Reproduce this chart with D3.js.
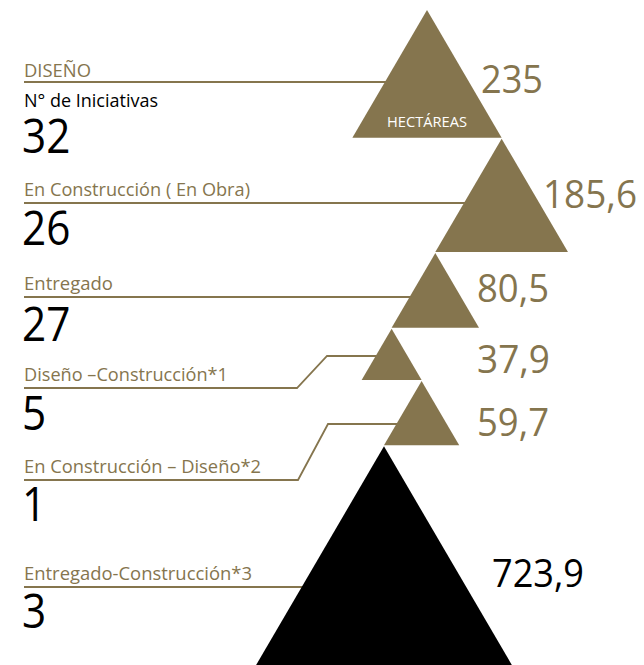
<!DOCTYPE html>
<html><head><meta charset="utf-8">
<script src="https://cdn.jsdelivr.net/npm/d3@7"></script>
<style>body{margin:0;background:#fff}svg{display:block}</style></head>
<body><svg id="c" width="644" height="665"></svg>
<script>
// ---- data ----
const categories = ["DISEÑO", "En Construcción ( En Obra)", "Entregado", "Diseño –Construcción*1", "En Construcción – Diseño*2", "Entregado-Construcción*3"];
const iniciativas = [32, 26, 27, 5, 1, 3];
const hectareas = [235, 185.6, 80.5, 37.9, 59.7, 723.9];
const hectareasLabels = ["235", "185,6", "80,5", "37,9", "59,7", "723,9"];
const highlight = [false, false, false, false, false, true];
const subtitle = "N° de Iniciativas";
const unitLabel = "HECTÁREAS";

// ---- layout ----
const GOLD = "#85754e", FONT = "'Open Sans', 'Noto Sans', sans-serif";
const svg = d3.select("#c");
const sideScale = d3.scaleSqrt().domain([0, d3.max(hectareas)]).range([0, 262]);
const HR = 0.855;                    // height / side
const anchorSide = [null, "right", "left", "left", "right", "left"];
const firstApex = {x: 427, y: 10}, gap = 1;
const lineY = [82, 203, 297, 388, 480, 587];
const elbows = {3: {x1: 297, x2: 327, y2: 356}, 4: {x1: 298, x2: 328, y2: 424}};
const numY = [153, 245, 341, 430, 521, 628];
const valX = [481, 543, 477, 477, 477, 492], valY = [93, 208, 302, 373, 436, 587];
const labelW = [67, 226, 89, 204, 237, 228];
const valW = [62, 94, 72, 73, 72, 92];

const tris = [];
hectareas.forEach((v, i) => {
  const s = sideScale(v), h = s * HR;
  let ax, ay;
  if (i === 0) { ax = firstApex.x; ay = firstApex.y; }
  else {
    const p = tris[i - 1];
    ax = anchorSide[i] === "right" ? p.x + p.s / 2 : p.x - p.s / 2;
    ay = p.y + p.h + gap;
  }
  tris.push({x: ax, y: ay, s, h, i});
});
const leftEdgeAt = (t, y) => t.x - (y - t.y) / t.h * t.s / 2;

// leader lines
const line = d3.line();
tris.forEach((t, i) => {
  let pts;
  if (elbows[i]) {
    const e = elbows[i];
    pts = [[24, lineY[i]], [e.x1, lineY[i]], [e.x2, e.y2], [leftEdgeAt(t, e.y2) + 2, e.y2]];
  } else {
    pts = [[24, lineY[i]], [leftEdgeAt(t, lineY[i]) + 2, lineY[i]]];
  }
  svg.append("path").attr("d", line(pts)).attr("fill", "none")
    .attr("stroke", GOLD).attr("stroke-width", 1.8);
});

// triangles
svg.selectAll("path.tri").data(tris).join("path").attr("class", "tri")
  .attr("d", t => line([[t.x, t.y], [t.x + t.s / 2, t.y + t.h], [t.x - t.s / 2, t.y + t.h]]) + "Z")
  .attr("fill", t => highlight[t.i] ? "#000" : GOLD);

// category labels
svg.selectAll("text.cat").data(categories).join("text").attr("class", "cat")
  .attr("x", 24).attr("y", (d, i) => lineY[i] - (i === 0 ? 5 : 7))
  .attr("font-family", FONT).attr("font-size", 17.5).attr("fill", GOLD)
  .attr("textLength", (d, i) => labelW[i]).attr("lengthAdjust", "spacingAndGlyphs")
  .text(d => d);

svg.append("text").attr("x", 24).attr("y", 107).attr("font-family", FONT)
  .attr("font-size", 18).attr("fill", "#000").attr("textLength", 134)
  .attr("lengthAdjust", "spacingAndGlyphs").text(subtitle);

// counts
svg.selectAll("text.num").data(iniciativas).join("text").attr("class", "num")
  .attr("x", 22).attr("y", (d, i) => numY[i])
  .attr("font-family", FONT).attr("font-size", 47).attr("fill", "#000")
  .attr("transform", (d, i) => `translate(22,0) scale(0.9,1) translate(-22,0)`)
  .text(d => d);

// hectare values
svg.selectAll("text.val").data(hectareasLabels).join("text").attr("class", "val")
  .attr("x", (d, i) => valX[i]).attr("y", (d, i) => valY[i])
  .attr("font-family", FONT).attr("font-size", 38)
  .attr("fill", (d, i) => highlight[i] ? "#000" : GOLD)
  .attr("textLength", (d, i) => valW[i]).attr("lengthAdjust", "spacingAndGlyphs")
  .text(d => d);

// unit label inside first triangle
svg.append("text").attr("x", tris[0].x).attr("y", 127).attr("text-anchor", "middle")
  .attr("font-family", FONT).attr("font-size", 14.5).attr("fill", "#fff")
  .attr("textLength", 80).attr("lengthAdjust", "spacingAndGlyphs").text(unitLabel);
</script></body></html>
